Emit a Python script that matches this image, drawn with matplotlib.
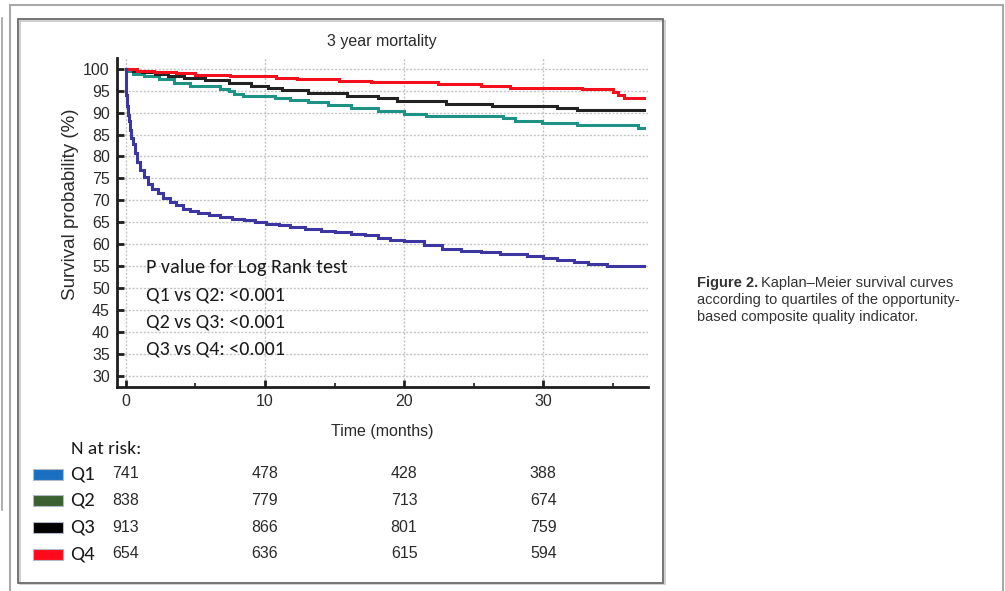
import matplotlib
matplotlib.use("Agg")
import matplotlib.pyplot as plt
import matplotlib.font_manager as fm
from matplotlib.patches import Rectangle
from matplotlib.lines import Line2D
from matplotlib.transforms import blended_transform_factory

# Kaplan-Meier step curves (months, survival %)
time_q1 = [0, 0.02, 0.05, 0.1, 0.15, 0.2, 0.3, 0.4, 0.5, 0.65, 0.8, 1.0, 1.3, 1.6, 1.9,
           2.3, 2.7, 3.2, 3.6, 4.1, 4.6, 5.2, 6.0, 6.8, 7.6, 8.5, 9.3, 10.1, 11.0, 11.8,
           12.9, 14.0, 15.0, 16.2, 17.2, 18.1, 19.0, 20.0, 21.4, 22.7, 24.1, 25.5, 26.9,
           28.8, 30.0, 31.0, 32.2, 33.2, 34.6, 37.2]
surv_q1 = [100, 97, 94, 91.5, 89.5, 88, 86, 84.3, 82.8, 80.8, 78.8, 77.0, 75.3, 73.8, 72.6,
           71.6, 70.6, 69.6, 69.0, 68.1, 67.5, 67.0, 66.6, 66.2, 65.8, 65.4, 65.0, 64.6, 64.3, 63.9,
           63.5, 63.1, 62.8, 62.4, 62.0, 61.3, 60.9, 60.7, 59.8, 59.0, 58.5, 58.1, 57.8,
           57.2, 56.9, 56.3, 55.9, 55.5, 55.1, 55.1]

time_q2 = [0, 0.1, 0.5, 1.3, 2.4, 3.5, 4.6, 6.8, 7.4, 7.8, 8.4, 10.7, 11.8, 13.1, 14.5,
           16.2, 18.1, 20.0, 21.6, 27.1, 28.0, 29.9, 32.4, 36.8, 37.2]
surv_q2 = [100, 99.4, 98.9, 98.3, 97.6, 96.8, 96.1, 95.5, 94.9, 94.3, 93.7, 93.3, 92.8, 92.4, 91.7,
           91.0, 90.4, 89.8, 89.2, 88.8, 88.2, 87.6, 87.1, 86.6, 86.6]

time_q3 = [0, 0.5, 1.2, 2.1, 3.0, 4.2, 5.7, 7.4, 9.0, 10.2, 11.2, 13.1, 15.9, 18.1, 19.5,
           23.0, 26.3, 31.0, 32.4, 37.2]
surv_q3 = [100, 99.6, 99.2, 98.8, 98.4, 97.9, 97.4, 96.8, 96.1, 95.6, 95.2, 94.5, 93.9, 93.3, 92.6,
           92.0, 91.5, 91.0, 90.6, 90.6]

time_q4 = [0, 0.8, 2.0, 3.6, 5.0, 7.5, 10.8, 12.3, 15.3, 17.6, 22.4, 25.5, 27.6, 32.8,
           35.0, 35.4, 35.8, 37.2]
surv_q4 = [100, 99.6, 99.3, 99.0, 98.7, 98.3, 98.0, 97.6, 97.2, 97.0, 96.5, 96.0, 95.6, 95.3,
           94.7, 94.0, 93.4, 93.4]

# numbers at risk
risk_months = [0, 10, 20, 30]
groups = ["Q1", "Q2", "Q3", "Q4"]
risk_q1 = [741, 478, 428, 388]
risk_q2 = [838, 779, 713, 674]
risk_q3 = [913, 866, 801, 759]
risk_q4 = [654, 636, 615, 594]

pvalue_lines = ["P value for Log Rank test",
                "Q1 vs Q2: <0.001",
                "Q2 vs Q3: <0.001",
                "Q3 vs Q4: <0.001"]

available = {f.name for f in fm.fontManager.ttflist}


def pick(*names):
    return next((n for n in names if n in available), "DejaVu Sans")


narrow = pick("Liberation Sans Narrow", "Liberation Sans")
sans = pick("Liberation Sans", "Arimo")
calibri = pick("Carlito", "Lato", "Open Sans")

W, H = 1005, 591
fig = plt.figure(figsize=(W / 100, H / 100), dpi=100)
fig.patch.set_facecolor("white")


def fx(x):
    return x / W


def fy(y):
    return 1 - y / H


# page frames
fig.add_artist(Line2D([fx(1.5), fx(1.5)], [fy(18), fy(510)], color="#a0a0a0", lw=1.2))
fig.add_artist(Rectangle((fx(10), fy(600)), fx(993), 595 / H, fill=False,
                         edgecolor="#a8a8a8", lw=1.5))
fig.add_artist(Rectangle((fx(19.5), fy(584)), fx(645), 563 / H, fill=False,
                         edgecolor="#c8c8c8", lw=1.2))
fig.add_artist(Rectangle((fx(18), fy(583)), fx(645), 564 / H, fill=False,
                         edgecolor="#6a6a6a", lw=1.3))

ax = fig.add_axes([fx(116.7), fy(387), fx(647.7 - 116.7), (387 - 58.3) / H])
ax.set_xlim(-0.65, 37.5)
ax.set_ylim(27.4, 102.4)

colors = {"Q1": "#3b36a0", "Q2": "#1f9286", "Q3": "#222222", "Q4": "#f2101c"}
curves = [(time_q2, surv_q2, "Q2"), (time_q3, surv_q3, "Q3"),
          (time_q4, surv_q4, "Q4"), (time_q1, surv_q1, "Q1")]
for t, s, g in curves:
    ax.plot(t, s, drawstyle="steps-post", color=colors[g], lw=2.2, zorder=4,
            solid_joinstyle="miter")

ax.set_yticks(range(30, 101, 5))
ax.set_xticks([0, 10, 20, 30])
ax.set_xticks([5, 15, 25, 35], minor=True)
ax.grid(True, which="major", color="#c4c4c4", ls=(0, (1.5, 1.2)), lw=1.0, zorder=0)

# white panel behind the log-rank text
ax.add_patch(Rectangle((-0.6, 31.3), 17.2, 26.5, facecolor="white", edgecolor="none", zorder=1))

for side in ["top", "right"]:
    ax.spines[side].set_visible(False)
for side in ["left", "bottom"]:
    ax.spines[side].set_linewidth(2.0)
    ax.spines[side].set_color("#1e1e1e")

ax.tick_params(axis="both", which="major", direction="in", length=5, width=2,
               color="#1e1e1e", labelsize=11.5, labelcolor="#2a2a2a", pad=5)
ax.tick_params(axis="x", which="minor", direction="in", length=3, width=1.2, color="#1e1e1e")
for lab in ax.get_xticklabels() + ax.get_yticklabels():
    lab.set_fontfamily(narrow)

ax.set_title("3 year mortality", fontfamily=narrow, fontsize=11.5, color="#2a2a2a", pad=9)
ax.set_xlabel("Time (months)", fontfamily=narrow, fontsize=11.5, color="#2a2a2a", labelpad=11)
fig.text(fx(70), fy(204), "Survival probability (%)", rotation=90, ha="center", va="center",
         fontfamily=sans, fontsize=13.5, color="#2a2a2a")

for i, line in enumerate(pvalue_lines):
    ax.text(1.45, 54.6 - i * 6.15, line, fontfamily=calibri, fontsize=14.5, color="#1a1a1a",
            ha="left", va="center", zorder=5)

# N at risk table
fig.text(fx(71), fy(449), "N at risk:", fontfamily=calibri, fontsize=14, color="#1a1a1a",
         ha="left", va="center")
patch_colors = ["#1a6fc0", "#3b6130", "#000000", "#ff0a1a"]
risk_rows = [risk_q1, risk_q2, risk_q3, risk_q4]
row_y = [474, 500.5, 527, 554]
tr = blended_transform_factory(ax.transData, fig.transFigure)
for g, pc, counts, y in zip(groups, patch_colors, risk_rows, row_y):
    fig.add_artist(Rectangle((fx(33), fy(y + 5.5)), fx(30), 11 / H, facecolor=pc,
                             edgecolor="#b0b8c8", lw=0.8))
    fig.text(fx(70), fy(y), g, fontfamily=calibri, fontsize=15, color="#1a1a1a",
             ha="left", va="center")
    for m, n in zip(risk_months, counts):
        fig.text(m, fy(y), str(n), transform=tr, fontfamily=narrow, fontsize=11.5,
                 color="#2a2a2a", ha="center", va="center")

# figure caption
cap_lines = ["according to quartiles of the opportunity-",
             "based composite quality indicator."]
bold = fig.text(fx(697), fy(283), "Figure 2.", fontfamily=sans, fontweight="bold",
                fontsize=10.5, color="#333333", ha="left", va="center")
renderer = fig.canvas.get_renderer()
bb = bold.get_window_extent(renderer=renderer)
fig.text(fx(bb.x1 + 3), fy(283), "Kaplan\u2013Meier survival curves", fontfamily=sans,
         fontsize=10.5, color="#333333", ha="left", va="center")
for i, line in enumerate(cap_lines):
    fig.text(fx(697), fy(300 + 17 * i), line, fontfamily=sans, fontsize=10.5,
             color="#333333", ha="left", va="center")

fig.savefig("out.png", dpi=100, facecolor="white")
